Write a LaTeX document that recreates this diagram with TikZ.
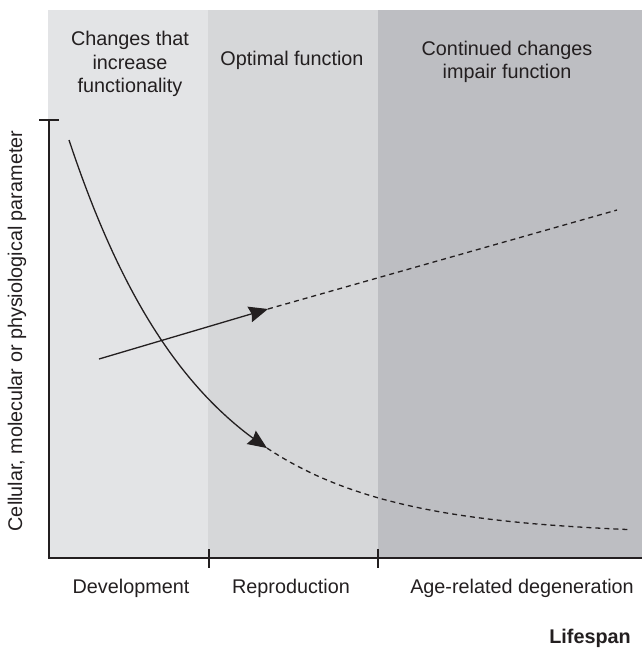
\documentclass[tikz,border=0pt]{standalone}
\usepackage{fontspec}
\setmainfont{Liberation Sans}
\usetikzlibrary{arrows.meta}
\definecolor{bandA}{RGB}{227,228,230}
\definecolor{bandB}{RGB}{214,215,217}
\definecolor{bandC}{RGB}{189,190,194}
\definecolor{ink}{RGB}{35,31,32}
\tikzset{
	axisline/.style={ink,line width=2pt},
	tickline/.style={ink,line width=1.6pt},
	trend/.style={ink,line width=1.3pt},
	trenddash/.style={ink,line width=1.3pt,dash pattern=on 5pt off 4pt},
	tiphead/.style={-{Stealth[length=19pt,width=16pt,inset=2pt]}},
	lbl/.style={font=\fontsize{19.8}{23.5}\selectfont,align=center,text=ink,inner sep=0pt},
}
\begin{document}
\begin{tikzpicture}[x=1pt,y=1pt,yscale=-1,xscale=1]
	\useasboundingbox (0,0) rectangle (642,649); %picture is 642 wide, 649 high
	
	%Bands
	\fill[bandA] (48,10) rectangle (208,558);
	\fill[bandB] (208,10) rectangle (378,558);
	\fill[bandC] (378,10) rectangle (642,558);
	
	%Band labels
	\node[lbl] (grow) at (130,64) {Changes that\\increase\\functionality};
	\node[lbl] (optimal) at (292,60) {Optimal function};
	\node[lbl] (impair) at (507,62) {Continued changes\\impair function};
	
	%Axes
	\coordinate (ytop) at (49,120);
	\coordinate (origin) at (49,558);
	\coordinate (xend) at (642,558);
	\draw[axisline] (ytop) -- (origin) -- (xend);
	%Straight Lines (ticks)
	\draw[tickline] (39,120) -- (59,120);
	\draw[tickline] (209,549) -- (209,568);
	\draw[tickline] (378,549) -- (378,568);
	
	%Axis labels
	\node[lbl] (dev) at (131,588) {Development};
	\node[lbl] (repro) at (291,588) {Reproduction};
	\node[lbl] (degen) at (522,588) {Age-related degeneration};
	\node[lbl,anchor=east,font=\fontsize{19.8}{23.5}\selectfont\bfseries] (life) at (631,638) {Lifespan};
	\node[lbl,rotate=90] (param) at (17,331) {Cellular, molecular or physiological parameter};
	
	%Rising line
	\coordinate (riseStart) at (99,359);
	\coordinate (riseTip) at (268,309);
	\coordinate (riseEnd) at (617,210);
	\draw[trend,tiphead] (riseStart) -- (riseTip);
	\draw[trenddash] (riseTip) -- (riseEnd);
	
	%Falling curve
	\draw[trend,tiphead] plot[domain=69:267,samples=60] (\x,{535-395*exp(-(\x-69)/130.8)});
	\draw[trenddash] plot[domain=267:628,samples=60] (\x,{535-395*exp(-(\x-69)/130.8)});
	
\end{tikzpicture}
\end{document}
